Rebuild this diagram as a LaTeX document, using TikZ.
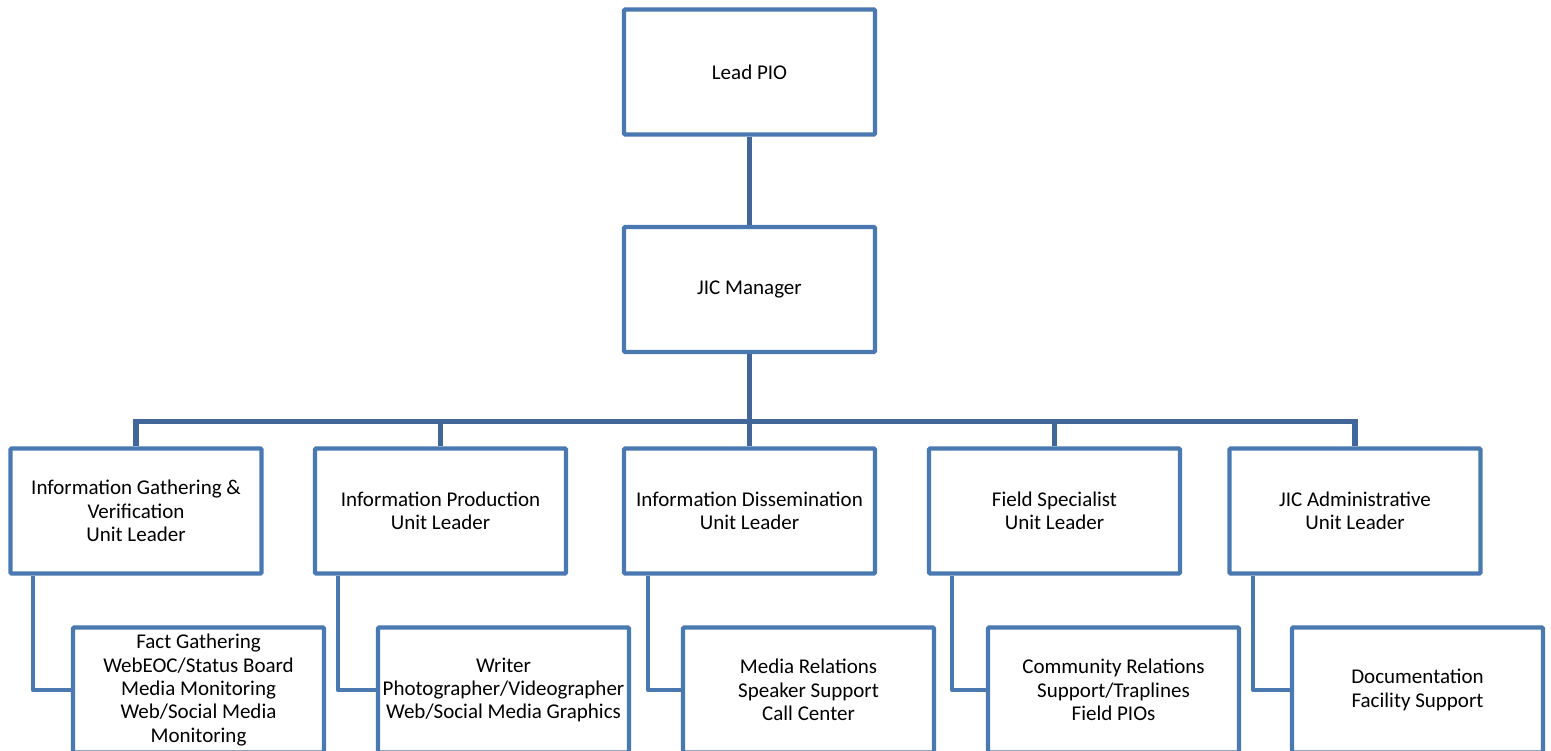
\documentclass[tikz,border=0pt]{standalone}
\usepackage{fontspec}
\setmainfont{Carlito}
\begin{document}
\definecolor{boxblue}{HTML}{4A78B0}
\definecolor{busblue}{HTML}{40669A}
\begin{tikzpicture}[x=1pt,y=-1pt,
  unitbox/.style={draw=boxblue, line width=4.3pt, rounded corners=1.2pt, fill=white,
    minimum width=251pt, minimum height=125pt, inner sep=0pt, align=center,
    font=\fontsize{21pt}{23.3pt}\selectfont},
  bus/.style={draw=busblue, line width=5.4pt},
  drop/.style={draw=boxblue, line width=4.2pt, line join=round}]
\useasboundingbox (0,0) rectangle (1551,751);

% top of the chart
\node[unitbox] (lead) at (749.5,72) {Lead PIO};
\node[unitbox] (jic)  at (749.5,289.5) {JIC Manager};

% unit leaders
\node[unitbox] (b1) at (136,511)    {Information Gathering \&\\Verification\\Unit Leader};
\node[unitbox] (b2) at (440.5,511)  {Information Production\\Unit Leader};
\node[unitbox] (b3) at (749.5,511)  {Information Dissemination\\Unit Leader};
\node[unitbox] (b4) at (1054.5,511) {Field Specialist\\Unit Leader};
\node[unitbox] (b5) at (1355,511)   {JIC Administrative\\Unit Leader};

% staff under each unit leader
\node[unitbox] (s1) at (198.5,690)  {Fact Gathering\\WebEOC/Status Board\\Media Monitoring\\Web/Social Media\\Monitoring};
\node[unitbox] (s2) at (503.5,690)  {Writer\\Photographer/Videographer\\Web/Social Media Graphics};
\node[unitbox] (s3) at (808.5,690)  {Media Relations\\Speaker Support\\Call Center};
\node[unitbox] (s4) at (1113.5,690) {Community Relations\\Support/Traplines\\Field PIOs};
\node[unitbox] (s5) at (1417.5,690) {Documentation\\Facility Support};

% trunk and bus
\coordinate (busc) at (749.5,421.5);
\begin{scope}[on background layer/.try]
\end{scope}
\draw[bus] (lead.south) -- (jic.north);
\draw[bus] (jic.south) -- (b3.north);
\draw[bus] (b1.north) |- (busc) -| (b5.north);
\draw[bus] (b2.north) -- (b2.north |- busc);
\draw[bus] (b4.north) -- (b4.north |- busc);

% drops to the staff boxes
\draw[drop] ([xshift=24.5pt]b1.south west) |- (s1.west);
\draw[drop] ([xshift=25pt]b2.south west) |- (s2.west);
\draw[drop] ([xshift=26pt]b3.south west) |- (s3.west);
\draw[drop] ([xshift=25pt]b4.south west) |- (s4.west);
\draw[drop] ([xshift=26pt]b5.south west) |- (s5.west);
\end{tikzpicture}
\end{document}
